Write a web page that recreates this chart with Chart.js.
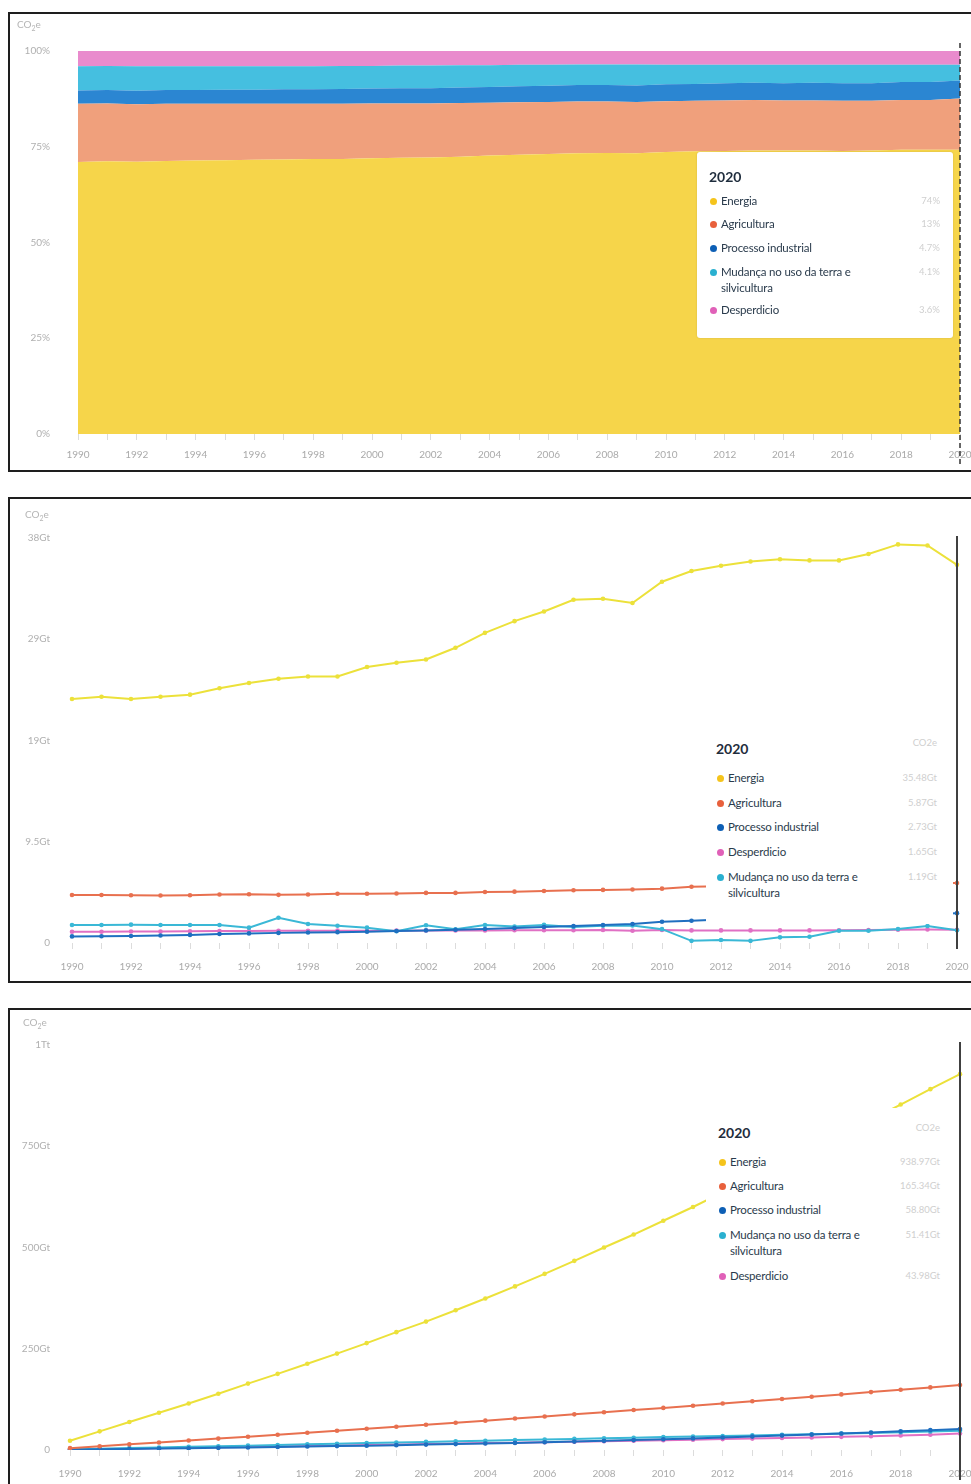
<!DOCTYPE html>
<html><head><meta charset="utf-8">
<script src="https://cdn.jsdelivr.net/npm/chart.js@4"></script>
<style>
html,body{margin:0;padding:0;background:#fff;overflow:hidden;width:971px;height:1484px;font-family:Lato,'Open Sans',sans-serif;}
.panel{position:absolute;border:2px solid #1e1e1e;box-sizing:border-box;}
canvas{position:absolute;}
.unit{position:absolute;font-size:10px;color:#b5b5b5;}
.leg{position:absolute;background:#fff;}
.lt{position:absolute;font-weight:700;font-size:14px;color:#1f2d3d;line-height:16px;}
.li{position:absolute;font-size:11.5px;color:#2a3b4c;line-height:16px;width:150px;letter-spacing:-0.2px;}
.dot{position:absolute;width:7px;height:7px;border-radius:50%;}
.lv{position:absolute;font-size:9.5px;color:#cfcfcf;text-align:right;width:70px;line-height:16px;}
</style></head>
<body>
<div class="panel" style="left:8px;top:12px;width:1000px;height:460px;"></div>
<div class="panel" style="left:8px;top:497px;width:1000px;height:486px;"></div>
<div class="panel" style="left:8px;top:1008px;width:1000px;height:500px;"></div>

<canvas id="c1" width="975" height="454" style="left:10px;top:14px;width:975px;height:454px;"></canvas>
<canvas id="c2" width="975" height="481" style="left:10px;top:499px;width:975px;height:481px;"></canvas>
<canvas id="c3" width="975" height="480" style="left:10px;top:1010px;width:975px;height:480px;"></canvas>

<div class="unit" style="left:17px;top:18px;">CO<sub style="font-size:7px">2</sub>e</div>
<div class="unit" style="left:25px;top:508px;">CO<sub style="font-size:7px">2</sub>e</div>
<div class="unit" style="left:23px;top:1016px;">CO<sub style="font-size:7px">2</sub>e</div>

<script>
// ---------- DATA ----------
const years = ['1990','1991','1992','1993','1994','1995','1996','1997','1998','1999','2000','2001','2002','2003','2004','2005','2006','2007','2008','2009','2010','2011','2012','2013','2014','2015','2016','2017','2018','2019','2020'];
const seriesNames = ['Energia','Agricultura','Processo industrial','Mudança no uso da terra e silvicultura','Desperdicio'];
const legendYear = '2020';
const unitHeader = 'CO2e';

// Chart 1: share of total (%)
const energyPct   = [71.0,71.2,71.1,71.3,71.4,71.5,71.6,71.7,71.8,71.8,72.0,72.1,72.2,72.4,72.7,72.9,73.1,73.3,73.4,73.3,73.6,73.8,73.9,74.0,74.0,74.0,73.9,74.0,74.2,74.2,74.2];
const agriPct     = [15.2,15.1,15.0,14.9,14.8,14.7,14.6,14.5,14.4,14.4,14.3,14.2,14.1,14.0,13.8,13.7,13.6,13.5,13.4,13.4,13.3,13.2,13.2,13.2,13.1,13.1,13.1,13.0,13.0,13.0,13.4];
const industryPct = [3.5,3.5,3.5,3.6,3.6,3.7,3.7,3.8,3.8,3.9,3.9,4.0,4.0,4.1,4.1,4.2,4.2,4.3,4.3,4.3,4.4,4.4,4.5,4.5,4.5,4.6,4.6,4.6,4.7,4.7,4.7];
const landPct     = [6.3,6.3,6.4,6.2,6.2,6.1,6.1,6.0,6.0,6.0,5.9,5.9,5.9,5.8,5.7,5.6,5.5,5.4,5.4,5.5,5.1,5.0,4.8,4.7,4.8,4.7,4.8,4.8,4.5,4.5,4.1];
const wastePct    = [4.0,3.9,4.0,4.0,4.0,4.0,4.0,4.0,4.0,3.9,3.9,3.8,3.8,3.7,3.7,3.6,3.6,3.5,3.5,3.5,3.6,3.6,3.6,3.6,3.6,3.6,3.6,3.6,3.6,3.6,3.6];
const pctLegendValues = ['74%','13%','4.7%','4.1%','3.6%'];
const pctTickLabels = ['0%','25%','50%','75%','100%'];

// Chart 2: annual emissions (Gt CO2e)
const energyGt   = [22.9,23.1,22.9,23.1,23.3,23.9,24.4,24.8,25.0,25.0,25.9,26.3,26.6,27.7,29.1,30.2,31.1,32.2,32.3,31.9,33.9,34.9,35.4,35.8,36.0,35.9,35.9,36.5,37.4,37.3,35.48];
const agriGt     = [4.50,4.50,4.48,4.45,4.48,4.55,4.58,4.52,4.55,4.62,4.62,4.65,4.70,4.70,4.78,4.82,4.88,4.95,4.98,5.02,5.10,5.28,5.32,5.36,5.40,5.42,5.46,5.50,5.55,5.60,5.62];
const industryGt = [0.62,0.64,0.66,0.70,0.76,0.84,0.90,0.95,0.98,1.02,1.06,1.12,1.18,1.25,1.31,1.40,1.50,1.60,1.69,1.78,2.00,2.09,2.20,2.30,2.40,2.45,2.50,2.58,2.65,2.72,2.80];
const landGt     = [1.69,1.69,1.72,1.69,1.69,1.69,1.44,2.37,1.78,1.62,1.44,1.10,1.66,1.28,1.69,1.55,1.70,1.50,1.62,1.65,1.30,0.20,0.28,0.20,0.53,0.59,1.15,1.15,1.31,1.59,1.19];
const wasteGt    = [1.05,1.06,1.08,1.08,1.10,1.12,1.12,1.14,1.15,1.16,1.16,1.16,1.17,1.18,1.18,1.19,1.20,1.20,1.22,1.15,1.22,1.18,1.18,1.18,1.18,1.18,1.20,1.22,1.24,1.26,1.25];
// listed in the legend's own order: Energia, Agricultura, Processo industrial, Desperdicio, Mudança
const annualLegendValues = ['35.48Gt','5.87Gt','2.73Gt','1.65Gt','1.19Gt'];
const annualTickLabels = ['0','9.5Gt','19Gt','29Gt','38Gt'];

// Chart 3: cumulative emissions (Gt CO2e)
const energyCum   = [23,46,69,92,115,139,164,188,213,238,264,291,317,345,374,404,435,467,500,532,566,600,636,672,708,744,780,816,853,891,928];
const agriCum     = [4.6,9.3,14.0,18.7,23.4,28.1,32.9,37.7,42.5,47.4,52.3,57.3,62.3,67.4,72.5,77.6,82.8,88.0,93.3,98.6,104.0,109.4,114.9,120.4,126.0,131.6,137.3,143.0,148.8,154.6,160.5];
const industryCum = [0.8,1.6,2.5,3.4,4.3,5.3,6.3,7.4,8.5,9.6,10.8,12.0,13.3,14.6,16.0,17.5,19.1,20.8,22.6,24.5,26.5,28.6,30.8,33.1,35.5,38.0,40.6,43.3,46.1,49.0,52.0];
const landCum     = [1.6,3.2,4.8,6.3,7.8,9.3,10.8,12.5,14.1,15.6,17.1,18.5,20.0,21.4,22.9,24.4,25.9,27.4,28.9,30.4,31.8,33.2,34.6,36.0,37.5,39.0,40.6,42.2,43.8,45.6,47.5];
const wasteCum    = [1.1,2.2,3.3,4.4,5.5,6.6,7.7,8.8,10.0,11.1,12.3,13.4,14.6,15.8,17.0,18.2,19.4,20.6,21.8,23.0,24.3,25.6,26.9,28.2,29.6,31.0,32.5,34.0,35.8,37.6,41.0];
const cumLegendValues = ['938.97Gt','165.34Gt','58.80Gt','51.41Gt','43.98Gt'];
const cumTickLabels = ['0','250Gt','500Gt','750Gt','1Tt'];

// ---------- STYLE ----------
const areaColors = ['#f6d54a','#f0a07c','#2b86d2','#45bfe0','#e98bcd'];
const lineColors = ['#ece13a','#e8704f','#1f6fc0','#3ab8d6','#e070c4'];
const dotColors  = ['#f5c41c','#e8603c','#0d5fb5','#2ab0d0','#e060b8'];

Chart.defaults.font.family = "Lato, 'Open Sans', sans-serif";
Chart.defaults.color = '#b0b0b0';
Chart.defaults.animation = false;

const vline = {
  id: 'vline',
  afterDatasetsDraw(chart, args, o) {
    const x = chart.scales.x.getPixelForValue(chart.data.labels.length - 1);
    const c = chart.ctx; const a = chart.chartArea;
    c.save();
    c.strokeStyle = o.color; c.lineWidth = o.width;
    c.setLineDash(o.dash || []);
    c.beginPath(); c.moveTo(x, a.top - o.above); c.lineTo(x, a.bottom + o.below); c.stroke();
    c.restore();
  }
};

function xAxis(h, pad) {
  return {
    type: 'category',
    offset: false,
    grid: { display: true, drawOnChartArea: false, drawTicks: true, tickLength: 6, color: '#e2e2e2', tickColor: '#dcdcdc' },
    border: { display: false },
    ticks: { autoSkip: false, maxRotation: 0, padding: pad, font: { size: 10 }, color: '#aaaaaa',
             callback: (v, i) => (i % 2 === 0 ? years[i] : '') },
    afterFit: s => { s.height = h; }
  };
}
function yAxis(w, pad, max, step, labels) {
  return {
    min: 0, max: max,
    grid: { display: false, drawTicks: false },
    border: { display: false },
    ticks: { stepSize: step, padding: pad, font: { size: 10 }, color: '#b0b0b0',
             callback: (v) => labels[Math.round(v / step)] },
    afterFit: s => { s.width = w; }
  };
}

// Chart 1: stacked 100% area
const pctSeries = [energyPct, agriPct, industryPct, landPct, wastePct];
new Chart(document.getElementById('c1'), {
  type: 'line',
  data: {
    labels: years,
    datasets: pctSeries.map((d, i) => ({
      label: seriesNames[i], data: d,
      backgroundColor: areaColors[i], borderColor: areaColors[i], borderWidth: 0,
      pointRadius: 0, fill: i === 0 ? 'origin' : '-1', tension: 0
    }))
  },
  options: {
    responsive: false,
    layout: { padding: { top: 37, right: 25, bottom: 0, left: 0 } },
    plugins: { legend: { display: false }, tooltip: { enabled: false },
               vline: { color: '#333', width: 1.5, dash: [5, 3], above: 8, below: 30 } },
    scales: {
      x: xAxis(32, 9),
      y: Object.assign(yAxis(68, 28, 100, 25, pctTickLabels), { stacked: true })
    }
  },
  plugins: [vline]
});

// Chart 2: annual lines
const gtSeries = [energyGt, agriGt, industryGt, landGt, wasteGt];
function lineSets(series) {
  return series.map((d, i) => ({
    label: seriesNames[i], data: d,
    borderColor: lineColors[i], backgroundColor: lineColors[i],
    borderWidth: 2, pointRadius: 2.3, pointBorderWidth: 0, fill: false, tension: 0
  }));
}
new Chart(document.getElementById('c2'), {
  type: 'line',
  data: { labels: years, datasets: lineSets(gtSeries) },
  options: {
    responsive: false,
    layout: { padding: { top: 39, right: 28, bottom: 0, left: 0 } },
    plugins: { legend: { display: false }, tooltip: { enabled: false },
               vline: { color: '#404040', width: 2, above: 2, below: 6 } },
    scales: { x: xAxis(37, 12), y: yAxis(62, 22, 38, 9.5, annualTickLabels) }
  },
  plugins: [vline]
});

// Chart 3: cumulative lines
const cumSeries = [energyCum, agriCum, industryCum, landCum, wasteCum];
new Chart(document.getElementById('c3'), {
  type: 'line',
  data: { labels: years, datasets: lineSets(cumSeries) },
  options: {
    responsive: false,
    layout: { padding: { top: 35, right: 25, bottom: 0, left: 0 } },
    plugins: { legend: { display: false }, tooltip: { enabled: false },
               vline: { color: '#404040', width: 2, above: 3, below: 30 } },
    scales: { x: xAxis(40, 12), y: yAxis(60, 20, 1000, 250, cumTickLabels) }
  },
  plugins: [vline]
});

// ---------- LEGEND BOXES (HTML overlays) ----------
function legend(cfg) {
  const box = document.createElement('div');
  box.className = 'leg';
  Object.assign(box.style, { left: cfg.left + 'px', top: cfg.top + 'px', width: cfg.w + 'px', height: cfg.h + 'px',
    borderRadius: (cfg.radius || 0) + 'px', boxShadow: cfg.shadow || 'none' });
  document.body.appendChild(box);
  const add = (cls, x, y, txt) => {
    const e = document.createElement('div'); e.className = cls;
    e.style.left = (x - cfg.left) + 'px'; e.style.top = (y - cfg.top) + 'px';
    if (txt !== undefined) e.textContent = txt;
    box.appendChild(e); return e;
  };
  add('lt', cfg.titleX, cfg.titleY - 8, legendYear);
  if (cfg.header) add('lv', cfg.valRight - 70, cfg.headerY - 8, unitHeader);
  cfg.order.forEach((si, k) => {
    const y = cfg.rowY[k];
    const d = add('dot', cfg.dotX - 3.5, y - 3.5); d.style.background = dotColors[si];
    add('li', cfg.textX, y - 8, seriesNames[si]);
    add('lv', cfg.valRight - 70, y - 8, cfg.values[k]);
  });
}

legend({ left: 697, top: 152, w: 256, h: 186, radius: 3, shadow: '0 0 2px rgba(0,0,0,0.15)',
  titleX: 709, titleY: 177, dotX: 713, textX: 721, valRight: 940,
  order: [0, 1, 2, 3, 4], rowY: [201, 224, 248, 272, 310], values: pctLegendValues });

legend({ left: 706, top: 728, w: 247, h: 196,
  titleX: 716, titleY: 749, header: true, headerY: 743, dotX: 720, textX: 728, valRight: 937,
  order: [0, 1, 2, 4, 3], rowY: [778, 803, 827, 852, 877], values: annualLegendValues });

legend({ left: 706, top: 1108, w: 249, h: 184,
  titleX: 718, titleY: 1133, header: true, headerY: 1128, dotX: 722, textX: 730, valRight: 940,
  order: [0, 1, 2, 3, 4], rowY: [1162, 1186, 1210, 1235, 1276], values: cumLegendValues });
</script>
</body></html>
